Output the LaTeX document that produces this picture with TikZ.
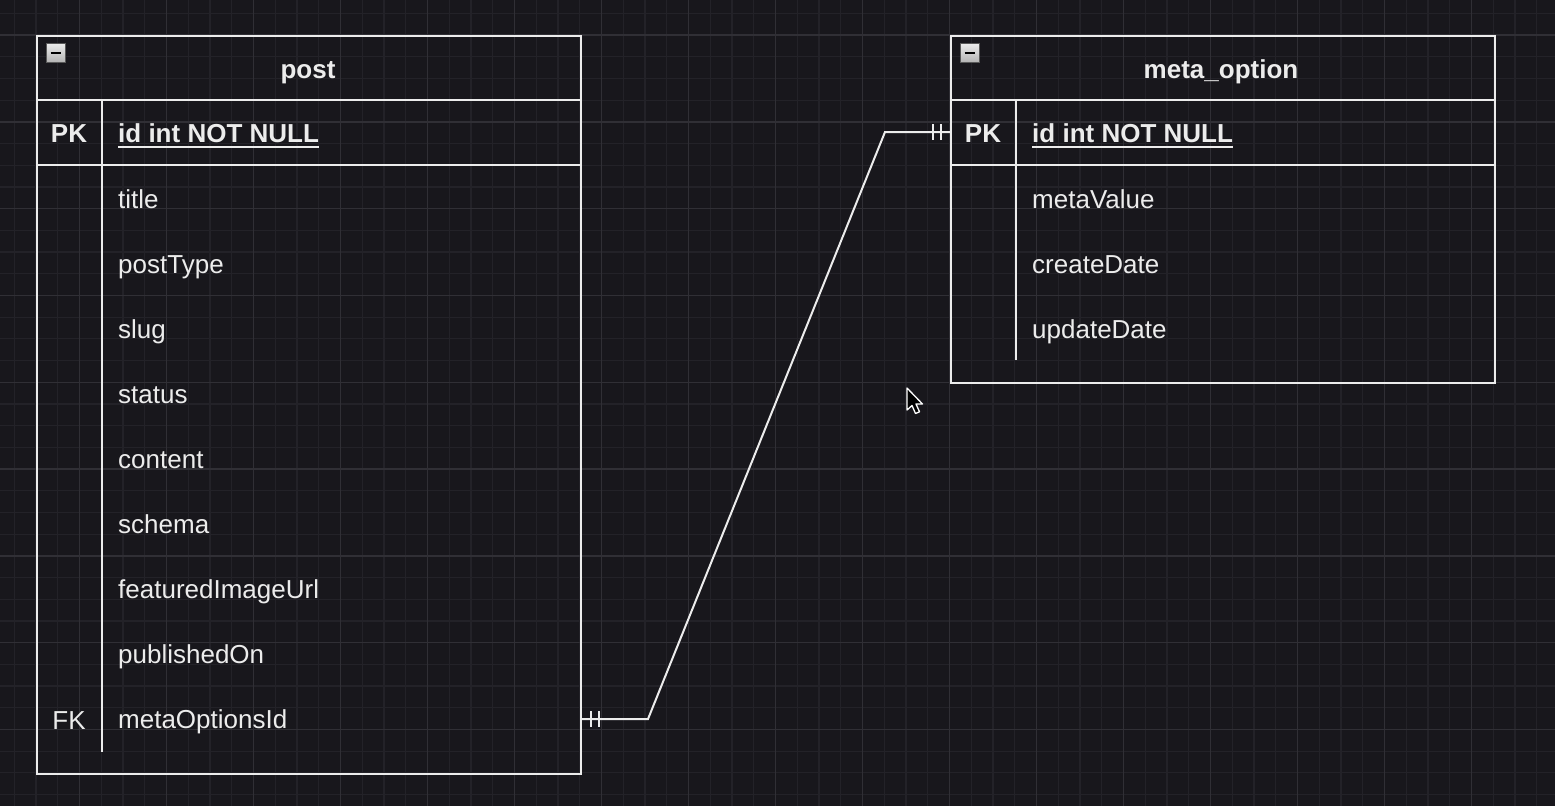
\documentclass[tikz,border=0pt]{standalone}
\usepackage{fontspec}
\setmainfont{Liberation Sans}
\usetikzlibrary{shadings}
\definecolor{bg}{HTML}{18171C}
\definecolor{gridminor}{HTML}{232228}
\definecolor{gridmajor}{HTML}{302F35}
\definecolor{fg}{HTML}{ECECEC}
\begin{document}
\begin{tikzpicture}[x=1pt,y=-1pt,
  minorline/.style={gridminor,line width=1.2pt},
  majorline/.style={gridmajor,line width=1.4pt},
  tbl/.style={draw=fg,line width=2pt,inner sep=0pt,anchor=north west},
  sep/.style={fg,line width=2pt},
  attr/.style={anchor=base west,inner sep=0pt,text=fg,font=\fontsize{26}{30}\selectfont},
  keylbl/.style={anchor=base,inner sep=0pt,text=fg,font=\fontsize{26}{30}\selectfont},
  title/.style={anchor=base,inner sep=0pt,text=fg,font=\bfseries\fontsize{26}{30}\selectfont},
  conn/.style={fg,line width=2pt},
  icon/.style={draw=gray!70!black,line width=1pt,minimum size=19pt,inner sep=0pt,top color=gray!15,bottom color=gray!60}]
\useasboundingbox[fill=bg] (0,0) rectangle (1555,806);
% grid
\foreach \k in {-1,...,70} {\draw[minorline] ({36+21.75*\k},0) -- ++(0,806);}
\foreach \k in {-1,...,35} {\draw[minorline] (0,{35+21.7*\k}) -- ++(1555,0);}
\foreach \k in {-2,2,...,70} {\draw[majorline] ({36+21.75*\k},0) -- ++(0,806);}
\foreach \k in {0,4,...,32} {\draw[majorline] (0,{35+21.7*\k}) -- ++(1555,0);}
% post table
\node[tbl,minimum width=544pt,minimum height=738pt] (post) at (36,35) {};
\draw[sep] (36,100) -- (580,100);
\draw[sep] (36,165) -- (580,165);
\draw[sep] (102,100) -- (102,752);
\node[icon] (icpost) at (55.5,53) {};
\draw[black,line width=2pt] ([xshift=-5pt]icpost.center) -- ([xshift=5pt]icpost.center);
\node[title] (posttitle) at (308,78) {post};
\node[title] (postpk) at (69,142) {PK};
\node[title,anchor=base west] (postid) at (118,142) {id int NOT NULL};
\draw[fg,line width=2pt] ([yshift=-5pt]postid.base west) -- ([yshift=-5pt]postid.base east);
\foreach \n/\t [count=\i from 0] in {a1/title,a2/postType,a3/slug,a4/status,a5/content,a6/schema,a7/featuredImageUrl,a8/publishedOn,a9/metaOptionsId}
  {\node[attr] (\n) at (118,{208+65.1*\i}) {\t};}
\node[keylbl] (postfk) at (69,729) {FK};
% meta_option table
\node[tbl,minimum width=544pt,minimum height=347pt] (meta) at (950,35) {};
\draw[sep] (950,100) -- (1494,100);
\draw[sep] (950,165) -- (1494,165);
\draw[sep] (1016,100) -- (1016,360);
\node[icon] (icmeta) at (969.5,53) {};
\draw[black,line width=2pt] ([xshift=-5pt]icmeta.center) -- ([xshift=5pt]icmeta.center);
\node[title] (metatitle) at (1221,78) {meta\_option};
\node[title] (metapk) at (983,142) {PK};
\node[title,anchor=base west] (metaid) at (1032,142) {id int NOT NULL};
\draw[fg,line width=2pt] ([yshift=-5pt]metaid.base west) -- ([yshift=-5pt]metaid.base east);
\foreach \n/\t [count=\i from 0] in {m1/metaValue,m2/createDate,m3/updateDate}
  {\node[attr] (\n) at (1032,{208+65.1*\i}) {\t};}
% connector
\coordinate (fkrow) at (102,719);
\coordinate (pkrow) at (1016,132);
\coordinate (c1) at (post.east |- fkrow);
\coordinate (c2) at (meta.west |- pkrow);
\draw[conn,line join=miter] (c1) -- ++(66,0) -- ([xshift=-65pt]c2) -- (c2);
\draw[conn] ([shift={(9,-8)}]c1) -- ++(0,16);
\draw[conn] ([shift={(17,-8)}]c1) -- ++(0,16);
\draw[conn] ([shift={(-17,-8)}]c2) -- ++(0,16);
\draw[conn] ([shift={(-9,-8)}]c2) -- ++(0,16);
% mouse cursor
\draw[fill=black,draw=white,line width=1.3pt,line join=round] (907,388) -- (907,410) -- (912,405.5) -- (915.5,413.5) -- (919.5,411.8) -- (916,404) -- (922.5,404) -- cycle;
\end{tikzpicture}
\end{document}
